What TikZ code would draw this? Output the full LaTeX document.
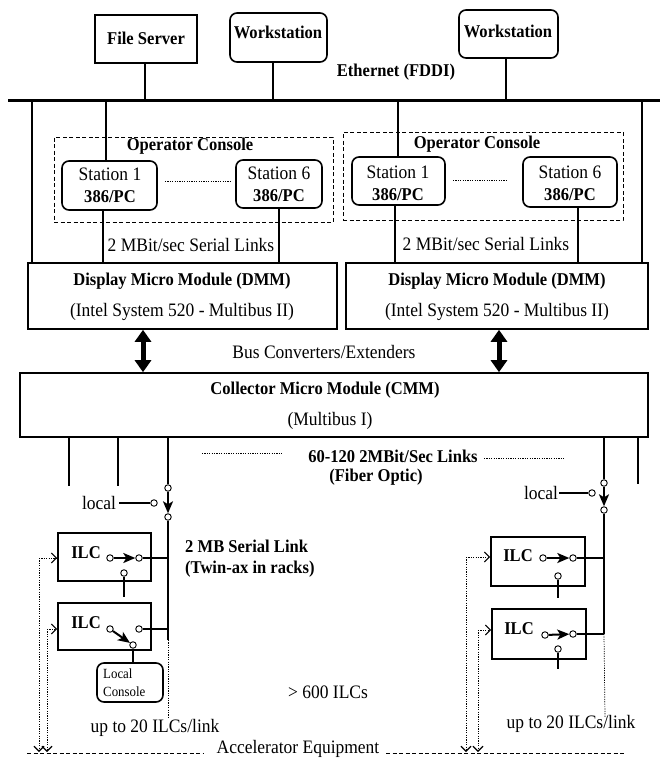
\documentclass[tikz,border=0pt]{standalone}
\usepackage{fontspec}
\setmainfont{Liberation Serif}[FakeStretch=0.92]
\usetikzlibrary{arrows.meta,fit}
\begin{document}
\begin{tikzpicture}[x=1pt,y=-1pt,
  box/.style={draw, line width=1.6pt, inner sep=0pt},
  rbox/.style={box, rounded corners=7pt},
  cbox/.style={draw, line width=0.9pt, dash pattern=on 4pt off 2.5pt, inner sep=0pt},
  bt/.style={font=\fontsize{18}{21}\selectfont\bfseries, inner sep=0pt},
  rt/.style={font=\fontsize{19}{22}\selectfont, inner sep=0pt},
  st/.style={font=\fontsize{14}{18}\selectfont, inner sep=0pt},
  eth/.style={line width=3pt},
  wire/.style={line width=2.6pt},
  lwire/.style={line width=1.7pt},
  dotl/.style={line width=0.7pt, dash pattern=on 1.2pt off 1.2pt},
  dashl/.style={line width=0.8pt, dash pattern=on 4pt off 2.5pt},
  sw/.style={circle, draw, fill=white, line width=0.9pt, inner sep=0pt, minimum size=6.5pt},
  swa/.style={line width=2pt, -{Stealth[length=12pt,width=10pt,inset=3pt]}},
  fb/.style={dotl, -{Straight Barb[length=5pt,width=10pt,line width=1.1pt]}},
  bigarrow/.style={line width=5pt, {Triangle[length=12pt,width=16pt]}-{Triangle[length=12pt,width=16pt]}}
]
\useasboundingbox (0,0) rectangle (660,758);

% ---------- top level ----------
\node[box, fit={(95,15)(197,63)}] (fs) {};
\node[bt] (fst) at (146,38) {File Server};
\node[rbox, fit={(230,13)(327,62)}] (ws1) {};
\node[bt] (ws1t) at (278,32) {Workstation};
\node[rbox, fit={(459,10)(558,58)}] (ws2) {};
\node[bt] (ws2t) at (508,31) {Workstation};
\node[bt] (etht) at (396,72) {Ethernet (FDDI)};

\coordinate (e0) at (8,100);
\coordinate (e1) at (660,100);
\draw[eth] (e0) -- (e1);
\coordinate (tfs) at (145,100);
\coordinate (tws1) at (273,100);
\coordinate (tws2) at (506,100);
\draw[wire] (fs.south -| tfs) -- (tfs);
\draw[wire] (ws1.south -| tws1) -- (tws1);
\draw[wire] (ws2.south -| tws2) -- (tws2);

% ---------- left operator console ----------
\node[cbox, fit={(54,137)(333,222)}] (ocL) {};
\node[bt] (ocLt) at (190,146) {Operator Console};
\node[rbox, fit={(62,161)(157,210)}] (s1L) {};
\node[rt] (s1Lt) at (110,174) {Station 1};
\node[bt] (s1Lp) at (110,197) {386/PC};
\node[rbox, fit={(236,160)(322,208)}] (s6L) {};
\node[rt] (s6Lt) at (279,173) {Station 6};
\node[bt] (s6Lp) at (279,196) {386/PC};
\coordinate (dotL0) at (165,181);
\coordinate (dotL1) at (232,181);
\draw[dotl] (dotL0) -- (dotL1);
\node[rt] (slL) at (191,245) {2 MBit/sec Serial Links};

% ---------- right operator console ----------
\node[cbox, fit={(343,132)(623,220)}] (ocR) {};
\node[bt] (ocRt) at (477,144) {Operator Console};
\node[rbox, fit={(352,157)(445,205)}] (s1R) {};
\node[rt] (s1Rt) at (398,172) {Station 1};
\node[bt] (s1Rp) at (398,195) {386/PC};
\node[rbox, fit={(523,157)(617,207)}] (s6R) {};
\node[rt] (s6Rt) at (570,172) {Station 6};
\node[bt] (s6Rp) at (570,195) {386/PC};
\coordinate (dotR0) at (453,180);
\coordinate (dotR1) at (507,180);
\draw[dotl] (dotR0) -- (dotR1);
\node[rt] (slR) at (486,244) {2 MBit/sec Serial Links};

% ---------- DMMs ----------
\node[box, fit={(28,263)(337,329)}] (dmmL) {};
\node[bt] (dmmLt) at (182,281) {Display Micro Module (DMM)};
\node[rt] (dmmLs) at (182,312) {(Intel System 520 - Multibus II)};
\node[box, fit={(346,263)(648,329)}] (dmmR) {};
\node[bt] (dmmRt) at (497,281) {Display Micro Module (DMM)};
\node[rt] (dmmRs) at (497,312) {(Intel System 520 - Multibus II)};

% drops from ethernet
\coordinate (tA) at (32,100);
\coordinate (tB) at (106,100);
\coordinate (tC) at (398,100);
\coordinate (tD) at (642,100);
\draw[wire] (tA) -- (tA |- dmmL.north);
\draw[wire] (tB) -- (tB |- s1L.north);
\draw[wire] (tC) -- (tC |- s1R.north);
\draw[wire] (tD) -- (tD |- dmmR.north);
% serial links
\coordinate (kL1) at (103,263);
\coordinate (kL6) at (279,263);
\coordinate (kR1) at (395,263);
\coordinate (kR6) at (578,263);
\draw[lwire] (kL1 |- s1L.south) -- (kL1);
\draw[lwire] (kL6 |- s6L.south) -- (kL6);
\draw[lwire] (kR1 |- s1R.south) -- (kR1);
\draw[lwire] (kR6 |- s6R.south) -- (kR6);

% ---------- CMM ----------
\node[box, fit={(20,373)(648,437)}] (cmm) {};
\node[bt] (cmmt) at (325,390) {Collector Micro Module (CMM)};
\node[rt] (cmms) at (330,421) {(Multibus I)};
\coordinate (aL) at (143,351);
\coordinate (aR) at (499,351);
\draw[bigarrow] (aL |- dmmL.south) -- (aL |- cmm.north);
\draw[bigarrow] (aR |- dmmR.south) -- (aR |- cmm.north);
\node[rt] (busc) at (324,352) {Bus Converters/Extenders};

% links below CMM
\coordinate (b1) at (69,486);
\coordinate (b2) at (118,486);
\coordinate (b3) at (638,484);
\draw[wire] (b1 |- cmm.south) -- (b1);
\draw[wire] (b2 |- cmm.south) -- (b2);
\draw[wire] (b3 |- cmm.south) -- (b3);
\node[bt] (lnk) at (393,456) {60-120 2MBit/Sec Links};
\node[bt] (fib) at (376,477) {(Fiber Optic)};
\coordinate (ld0) at (202,453);
\coordinate (ld1) at (282,453);
\draw[dotl] (ld0) -- (ld1);
\coordinate (rd0) at (484,458);
\coordinate (rd1) at (564,458);
\draw[dotl] (rd0) -- (rd1);

% ---------- left ILC chain ----------
\node[sw] (lsA) at (168,488) {};
\node[sw] (lsB) at (168,517) {};
\node[sw] (lsC) at (154,503) {};
\draw[wire] (lsA |- cmm.south) -- (lsA);
\draw[swa] (lsA) -- (lsB);
\node[rt] (locL) at (99,503) {local};
\draw[line width=1.2pt, shorten <=3pt] (locL.east) -- (lsC);
\coordinate (lbot) at (168,640);
\coordinate (ldot) at (168,717);
\draw[wire] (lsB) -- (lbot);
\draw[dotl] (lbot) -- (ldot);

\node[box, fit={(58,533)(151,581)}] (ilcL1) {};
\node[bt] (ilcL1t) at (86,553) {ILC};
\node[sw] (l1a) at (110,558) {};
\node[sw] (l1b) at (139,558) {};
\draw[swa] (l1a) -- (l1b);
\draw[wire] (l1b) -- (l1b -| lbot);
\node[sw] (l1c) at (124,573) {};
\coordinate (l1d) at (124,597);
\draw[lwire] (l1c) -- (l1d);

\node[box, fit={(58,603)(151,650)}] (ilcL2) {};
\node[bt] (ilcL2t) at (86,623) {ILC};
\node[sw] (l2a) at (110,629) {};
\node[sw] (l2b) at (133,645) {};
\node[sw] (l2c) at (139,629) {};
\draw[swa] (l2a) -- (l2b);
\draw[wire] (l2c) -- (l2c -| lbot);
\node[rbox, fit={(97,663)(163,702)}] (lcon) {};
\node[st, align=left, anchor=west] (lcont) at (103,683) {Local\\Console};
\draw[lwire] (l2b) -- (l2b |- lcon.north);

\coordinate (fL1) at (39,558);
\coordinate (fL1b) at (39,752);
\coordinate (fL2) at (47,629);
\coordinate (fL2b) at (47,752);
\draw[fb] (fL1) -- (fL1 -| ilcL1.west);
\draw[fb] (fL1) -- (fL1b);
\draw[fb] (fL2) -- (fL2 -| ilcL2.west);
\draw[fb] (fL2) -- (fL2b);

\node[bt, align=left, anchor=west] (twin) at (185,559) {2 MB Serial Link\\(Twin-ax in racks)};
\node[rt] (upL) at (155,728) {up to 20 ILCs/link};
\node[rt] (ilcs) at (328,692) {> 600 ILCs};

% ---------- right ILC chain ----------
\node[sw] (rsA) at (604,483) {};
\node[sw] (rsB) at (604,510) {};
\node[sw] (rsC) at (592,493) {};
\draw[wire] (rsA |- cmm.south) -- (rsA);
\draw[swa] (rsA) -- (rsB);
\node[rt] (locR) at (541,493) {local};
\draw[line width=1.2pt, shorten <=1pt] (locR.east) -- (rsC);
\coordinate (rbot) at (604,634);
\coordinate (rdot) at (605,717);
\draw[wire] (rsB) -- (rbot);
\draw[dotl] (rbot) -- (rdot);

\node[box, fit={(491,537)(585,586)}] (ilcR1) {};
\node[bt] (ilcR1t) at (518,556) {ILC};
\node[sw] (r1a) at (543,558) {};
\node[sw] (r1b) at (573,558) {};
\draw[swa] (r1a) -- (r1b);
\draw[wire] (r1b) -- (r1b -| rbot);
\node[sw] (r1c) at (558,576) {};
\coordinate (r1d) at (558,598);
\draw[lwire] (r1c) -- (r1d);

\node[box, fit={(492,609)(586,659)}] (ilcR2) {};
\node[bt] (ilcR2t) at (519,629) {ILC};
\node[sw] (r2a) at (545,635) {};
\node[sw] (r2b) at (573,634) {};
\draw[swa] (r2a) -- (r2b);
\draw[wire] (r2b) -- (rbot);
\node[sw] (r2c) at (558,649) {};
\coordinate (r2d) at (558,669);
\draw[lwire] (r2c) -- (r2d);

\coordinate (fR1) at (466,557);
\coordinate (fR1b) at (466,752);
\coordinate (fR2) at (478,630);
\coordinate (fR2b) at (478,752);
\draw[fb] (fR1) -- (fR1 -| ilcR1.west);
\draw[fb] (fR1) -- (fR1b);
\draw[fb] (fR2) -- (fR2 -| ilcR2.west);
\draw[fb] (fR2) -- (fR2b);
\node[rt] (upR) at (571,724) {up to 20 ILCs/link};

% ---------- accelerator equipment ----------
\node[rt] (acc) at (298,749) {Accelerator Equipment};
\coordinate (aq0) at (27,753);
\coordinate (aq1) at (204,753);
\coordinate (aq2) at (386,753);
\coordinate (aq3) at (625,753);
\draw[dashl] (aq0) -- (aq1);
\draw[dashl] (aq2) -- (aq3);
\end{tikzpicture}
\end{document}
